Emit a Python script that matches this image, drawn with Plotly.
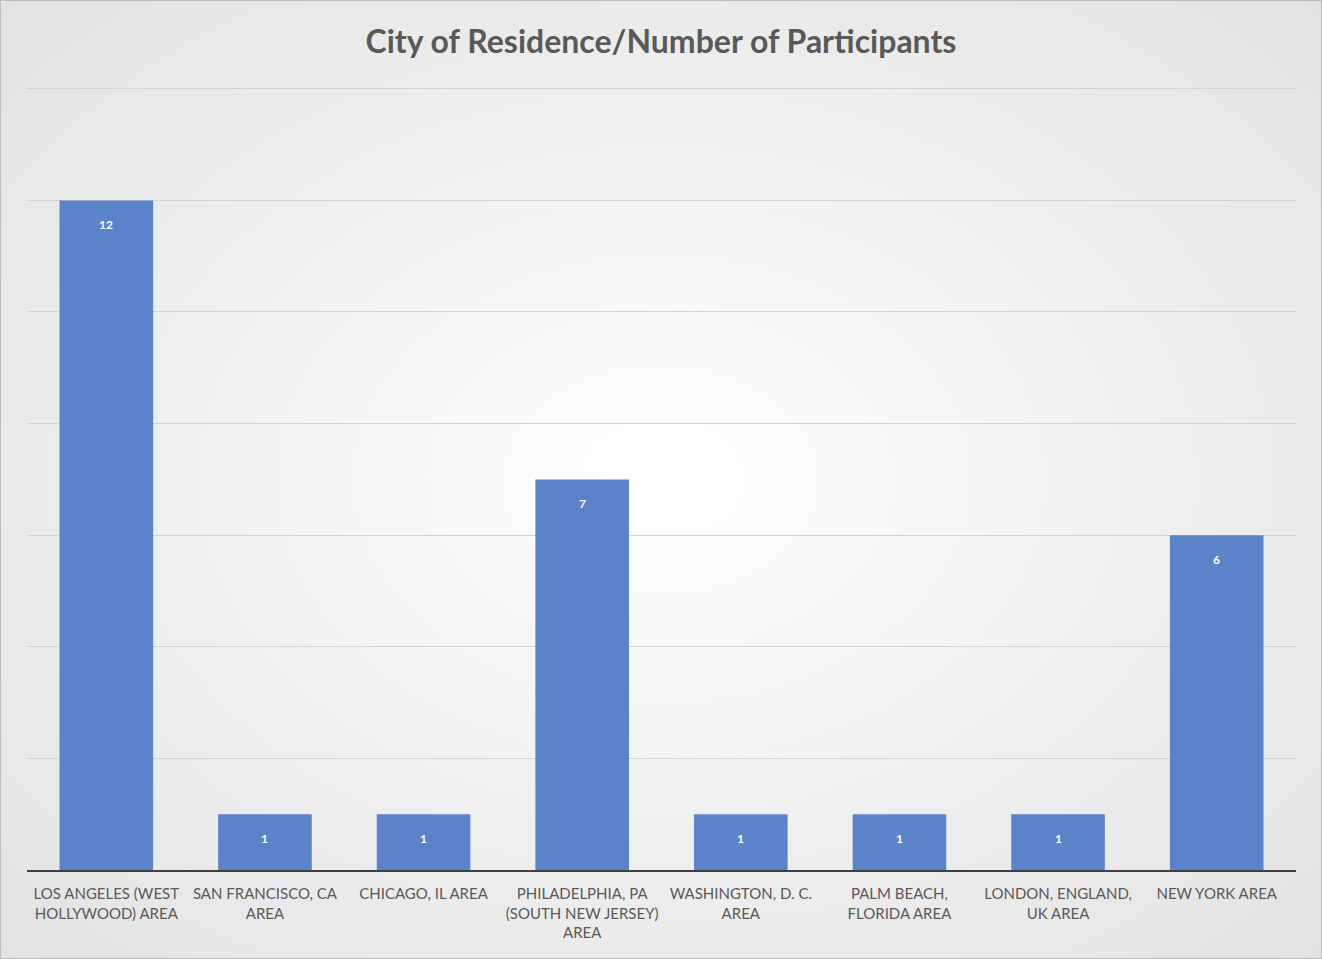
import plotly.graph_objects as go
import base64

categories = [
    "LOS ANGELES (WEST<br>HOLLYWOOD) AREA",
    "SAN FRANCISCO, CA<br>AREA",
    "CHICAGO, IL AREA",
    "PHILADELPHIA, PA<br>(SOUTH NEW JERSEY)<br>AREA",
    "WASHINGTON, D. C.<br>AREA",
    "PALM BEACH,<br>FLORIDA AREA",
    "LONDON, ENGLAND,<br>UK AREA",
    "NEW YORK AREA",
]
participants = [12, 1, 1, 7, 1, 1, 1, 6]
title_text = "City of Residence/Number of Participants"

W, H = 1322, 959
L, R, T, B = 27, 26, 86, 89
pw, ph = W - L - R, H - T - B

svg = """<svg xmlns='http://www.w3.org/2000/svg' width='1322' height='959'>
<defs><radialGradient id='g' cx='50%' cy='50%' r='75%'>
<stop offset='0%' stop-color='#ffffff'/><stop offset='100%' stop-color='#e0e0e0'/>
</radialGradient></defs>
<rect width='1322' height='959' fill='url(#g)'/></svg>"""
bg = "data:image/svg+xml;base64," + base64.b64encode(svg.encode()).decode()

fig = go.Figure()
fig.add_trace(go.Bar(
    x=categories, y=participants,
    marker=dict(color="#5b83c9", line=dict(width=0)),
    width=0.59,
    hoverinfo="x+y",
))

for c, v in zip(categories, participants):
    fig.add_annotation(x=c, y=v, text=f"<b>{v}</b>", showarrow=False,
                       yanchor="top", yshift=-15,
                       font=dict(family="Lato, Open Sans, sans-serif", size=12, color="#ffffff"))

fig.update_layout(
    width=W, height=H,
    margin=dict(l=L, r=R, t=T, b=B),
    paper_bgcolor="#eeeeee",
    plot_bgcolor="rgba(0,0,0,0)",
    images=[dict(source=bg, xref="paper", yref="paper", x=-L/pw, y=1+T/ph,
                 sizex=W/pw, sizey=H/ph, xanchor="left", yanchor="top",
                 sizing="stretch", layer="below")],
    title=dict(text="<b>" + title_text + "</b>", x=0.5, xanchor="center",
               y=1 - 42/H, yanchor="middle",
               font=dict(family="Lato, Open Sans, sans-serif", size=32, color="#595959")),
    showlegend=False,
    xaxis=dict(showline=True, linecolor="#404040", linewidth=2,
               ticks="", ticklabelstandoff=9,
               tickfont=dict(family="Lato, Open Sans, sans-serif", size=15, color="#595959"),
               tickangle=0, showgrid=False),
    yaxis=dict(range=[0, 14.05], dtick=2, showticklabels=False, showgrid=True,
               gridcolor="#d4d4d4", gridwidth=1, zeroline=False, showline=False),
    shapes=[dict(type="rect", xref="paper", yref="paper", x0=-L/pw, x1=1+R/pw,
                 y0=-B/ph, y1=1+T/ph, line=dict(color="#bdbdbd", width=2))],
)

fig.write_html("out.html", config={"displayModeBar": False},
               post_script="document.body.style.margin='0';")
